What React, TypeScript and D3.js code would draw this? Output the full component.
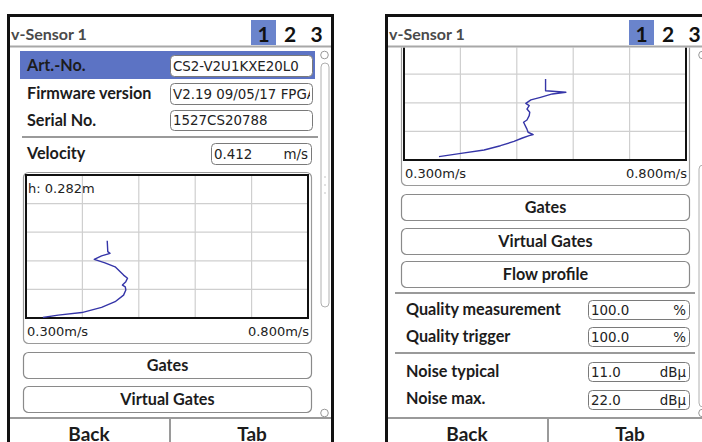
import React from 'react';
import * as d3 from 'd3';

const headerTitle = 'v-Sensor 1';
const pageTabs = ['1', '2', '3'];
const infoLabels = ['Art.-No.', 'Firmware version', 'Serial No.'];
const infoValues = ['CS2-V2U1KXE20L0', 'V2.19 09/05/17 FPGA', '1527CS20788'];
const velocityLabel = 'Velocity';
const velocityValue = '0.412';
const velocityUnit = 'm/s';
const levelText = 'h: 0.282m';
const xAxisLabels = ['0.300m/s', '0.800m/s'];
const xDomain = [0.3, 0.8];
const yDomain = [0, 0.5];
const gridStep = 0.1;
const buttonLabels = ['Gates', 'Virtual Gates', 'Flow profile'];
const qualityLabels = ['Quality measurement', 'Quality trigger'];
const qualityValues = ['100.0', '100.0'];
const qualityUnits = ['%', '%'];
const noiseLabels = ['Noise typical', 'Noise max.'];
const noiseValues = ['11.0', '22.0'];
const noiseUnits = ['dBμ', 'dBμ'];
const footerLabels = ['Back', 'Tab'];

// flow profile, left screen (velocity m/s, height m)
const profileAVelocity = [0.330, 0.357, 0.399, 0.434, 0.458, 0.473, 0.477, 0.476, 0.471, 0.477, 0.480, 0.473, 0.458, 0.440, 0.421, 0.434, 0.449, 0.445, 0.444];
const profileAHeight = [0.002, 0.010, 0.019, 0.037, 0.057, 0.080, 0.098, 0.109, 0.115, 0.127, 0.139, 0.150, 0.179, 0.193, 0.205, 0.217, 0.226, 0.232, 0.270];
// flow profile, right screen
const profileBVelocity = [0.362, 0.401, 0.442, 0.471, 0.495, 0.510, 0.522, 0.529, 0.520, 0.518, 0.512, 0.518, 0.522, 0.523, 0.518, 0.522, 0.516, 0.525, 0.542, 0.563, 0.587, 0.551, 0.551];
const profileBHeight = [0.012, 0.023, 0.035, 0.050, 0.065, 0.077, 0.085, 0.089, 0.097, 0.108, 0.132, 0.140, 0.155, 0.167, 0.178, 0.190, 0.198, 0.210, 0.219, 0.231, 0.237, 0.242, 0.283];

const LABEL_FONT = "Lato, 'Open Sans', sans-serif";
const VALUE_FONT = "'DejaVu Sans', Verdana, sans-serif";
const BLUE = '#5c73c4';
const LINE = '#3535a8';

function ValueBox({ x, y, w, h, value, unit, id, show }: any) {
  return (
    <g>
      <defs>
        <clipPath id={id}>
          <rect x={x + 1} y={y} width={w - 3} height={h} />
        </clipPath>
      </defs>
      <rect x={x + 0.5} y={y + 0.5} width={w} height={h} rx={4} fill="#fff" stroke="#7a7a7a" strokeWidth={1} />
      {show ? (
        <g clipPath={`url(#${id})`}>
          <text x={x + 3} y={y + h / 2 + 5} fontFamily={VALUE_FONT} fontSize={13.4} fill="#222">{value}</text>
          {unit ? (
            <text x={x + w - 3} y={y + h / 2 + 5} textAnchor="end" fontFamily={VALUE_FONT} fontSize={13.4} fill="#222">{unit}</text>
          ) : null}
        </g>
      ) : null}
    </g>
  );
}

function Screen({ ox, scroll, vel, hgt, thumbY, thumbH, id }: any) {
  const plotL = 26, plotR = 308, plotT = 175, plotB = 318;
  const x = d3.scaleLinear().domain(xDomain).range([plotL, plotR]);
  const y = d3.scaleLinear().domain(yDomain).range([plotB, plotT]);
  const line = d3.line<number>().x((_, i) => x(vel[i])).y((_, i) => y(hgt[i]));
  const xt = d3.range(xDomain[0] + gridStep, xDomain[1] - 1e-9, gridStep);
  const yt = d3.range(yDomain[0] + gridStep, yDomain[1] - 1e-9, gridStep);
  const infoY = [55, 83, 110];
  const infoH = [21, 21, 20];
  const infoBase = [71, 99, 126];
  const btnY = [352, 386, 419];
  const qY = [458, 485];
  const qBase = [473, 500];
  const nY = [520, 548];
  const nBase = [535, 562];
  const vis = (base: number) => base - scroll > 58 && base - scroll - 12 < 418;
  const labelProps = { fontFamily: LABEL_FONT, fontWeight: 700, fontSize: 16.2, fill: '#1c1c1c' } as any;

  return (
    <g transform={`translate(${ox},0)`}>
      <defs>
        <clipPath id={`${id}-content`}>
          <rect x={10} y={47.5} width={321} height={369.5} />
        </clipPath>
        <clipPath id={`${id}-plot`}>
          <rect x={plotL} y={plotT} width={plotR - plotL} height={plotB - plotT} />
        </clipPath>
      </defs>
      {/* device frame */}
      <rect x={8.5} y={15.5} width={324} height={440} fill="#fff" stroke="#111" strokeWidth={3} />

      {/* scrolled content */}
      <g clipPath={`url(#${id}-content)`}>
        <g transform={`translate(0,${-scroll})`}>
          <rect x={20} y={51} width={295} height={28} fill={BLUE} />
          {infoLabels.map((l, i) => (
            <g key={l}>
              {vis(infoBase[i]) ? <text x={27} y={infoBase[i]} {...labelProps}>{l}</text> : null}
              <ValueBox x={170} y={infoY[i]} w={142} h={infoH[i]} value={infoValues[i]} id={`${id}-info${i}`} show={vis(infoBase[i])} />
            </g>
          ))}
          <line x1={22} x2={318} y1={137} y2={137} stroke="#9a9a9a" strokeWidth={2} />

          {vis(159) ? <text x={27} y={159} {...labelProps}>{velocityLabel}</text> : null}
          <ValueBox x={211} y={143} w={100} h={21} value={velocityValue} unit={velocityUnit} id={`${id}-vel`} show={vis(159)} />

          {/* chart */}
          <rect x={23.5} y={172.5} width={288} height={171} rx={5} fill="#fff" stroke="#9a9a9a" strokeWidth={1.2} />
          {xt.map((t) => (
            <line key={`gx${t}`} x1={x(t)} x2={x(t)} y1={plotT} y2={plotB} stroke="#cfcfcf" strokeWidth={1.2} />
          ))}
          {yt.map((t) => (
            <line key={`gy${t}`} x1={plotL} x2={plotR} y1={y(t)} y2={y(t)} stroke="#cfcfcf" strokeWidth={1.2} />
          ))}
          <rect x={plotL} y={plotT} width={plotR - plotL} height={plotB - plotT} fill="none" stroke="#111" strokeWidth={2} />
          <g clipPath={`url(#${id}-plot)`}>
            <path d={line(vel) || ''} fill="none" stroke={LINE} strokeWidth={1.4} strokeLinejoin="round" />
          </g>
          {vis(193) ? <text x={28} y={193} fontFamily={VALUE_FONT} fontSize={13} fill="#222">{levelText}</text> : null}
          <text x={27} y={336} fontFamily={VALUE_FONT} fontSize={13} fill="#222">{xAxisLabels[0]}</text>
          <text x={309} y={336} textAnchor="end" fontFamily={VALUE_FONT} fontSize={13} fill="#222">{xAxisLabels[1]}</text>

          {buttonLabels.map((b, i) => (
            <g key={b}>
              <rect x={23.5} y={btnY[i] + 0.5} width={288} height={26} rx={5} fill="#fff" stroke="#8a8a8a" strokeWidth={1.2} />
              {vis(btnY[i] + 19) ? <text x={167.5} y={btnY[i] + 19} textAnchor="middle" {...labelProps}>{b}</text> : null}
            </g>
          ))}
          <line x1={17} x2={317} y1={451} y2={451} stroke="#9a9a9a" strokeWidth={2} />
          {qualityLabels.map((l, i) => (
            <g key={l}>
              {vis(qBase[i]) ? <text x={28} y={qBase[i]} {...labelProps}>{l}</text> : null}
              <ValueBox x={210} y={qY[i]} w={101} h={19} value={qualityValues[i]} unit={qualityUnits[i]} id={`${id}-q${i}`} show={vis(qBase[i])} />
            </g>
          ))}
          <line x1={17} x2={317} y1={511} y2={511} stroke="#9a9a9a" strokeWidth={2} />
          {noiseLabels.map((l, i) => (
            <g key={l}>
              {vis(nBase[i]) ? <text x={28} y={nBase[i]} {...labelProps}>{l}</text> : null}
              <ValueBox x={210} y={nY[i]} w={101} h={19} value={noiseValues[i]} unit={noiseUnits[i]} id={`${id}-n${i}`} show={vis(nBase[i])} />
            </g>
          ))}
        </g>
      </g>

      {/* header */}
      <text x={11} y={40} fontFamily={LABEL_FONT} fontWeight={700} fontSize={16} fill="#4a4a4a">{headerTitle}</text>
      <rect x={251} y={20} width={25} height={25} fill="#6a84cc" />
      {pageTabs.map((p, i) => (
        <text key={p} x={263.5 + i * 26.5} y={42} textAnchor="middle" fontFamily={LABEL_FONT} fontWeight={700} fontSize={21} fill="#111">{p}</text>
      ))}
      <line x1={10} x2={331} y1={46.5} y2={46.5} stroke="#a8a8a8" strokeWidth={2} />

      {/* scrollbar */}
      <circle cx={324.5} cy={55} r={3.8} fill="#fff" stroke="#999" strokeWidth={1} />
      <rect x={321} y={thumbY} width={8} height={thumbH} rx={4} fill="#fff" stroke="#b0b0b0" strokeWidth={1} />
      {[0, 8, 16].map((d) => (
        <circle key={d} cx={325} cy={thumbY + thumbH / 2 - 8 + d} r={0.8} fill="#bbb" />
      ))}
      <circle cx={324.5} cy={413} r={3.8} fill="#fff" stroke="#999" strokeWidth={1} />

      {/* footer */}
      <rect x={10} y={418} width={321} height={30} fill="#fff" />
      <line x1={10} x2={331} y1={418} y2={418} stroke="#9a9a9a" strokeWidth={2} />
      <line x1={170} x2={170} y1={418} y2={450} stroke="#9a9a9a" strokeWidth={2} />
      <text x={89} y={441} textAnchor="middle" fontFamily={LABEL_FONT} fontWeight={700} fontSize={19} fill="#1c1c1c">{footerLabels[0]}</text>
      <text x={252} y={441} textAnchor="middle" fontFamily={LABEL_FONT} fontWeight={700} fontSize={19} fill="#1c1c1c">{footerLabels[1]}</text>
    </g>
  );
}

export default function App() {
  return (
    <svg width={702} height={442} style={{ position: 'absolute', left: 0, top: 0, background: '#fff' }}>
      <rect x={0} y={0} width={702} height={442} fill="#fff" />
      <Screen ox={0} scroll={0} vel={profileAVelocity} hgt={profileAHeight} thumbY={63} thumbH={244} id="s1" />
      <Screen ox={378} scroll={158} vel={profileBVelocity} hgt={profileBHeight} thumbY={165} thumbH={242} id="s2" />
    </svg>
  );
}
